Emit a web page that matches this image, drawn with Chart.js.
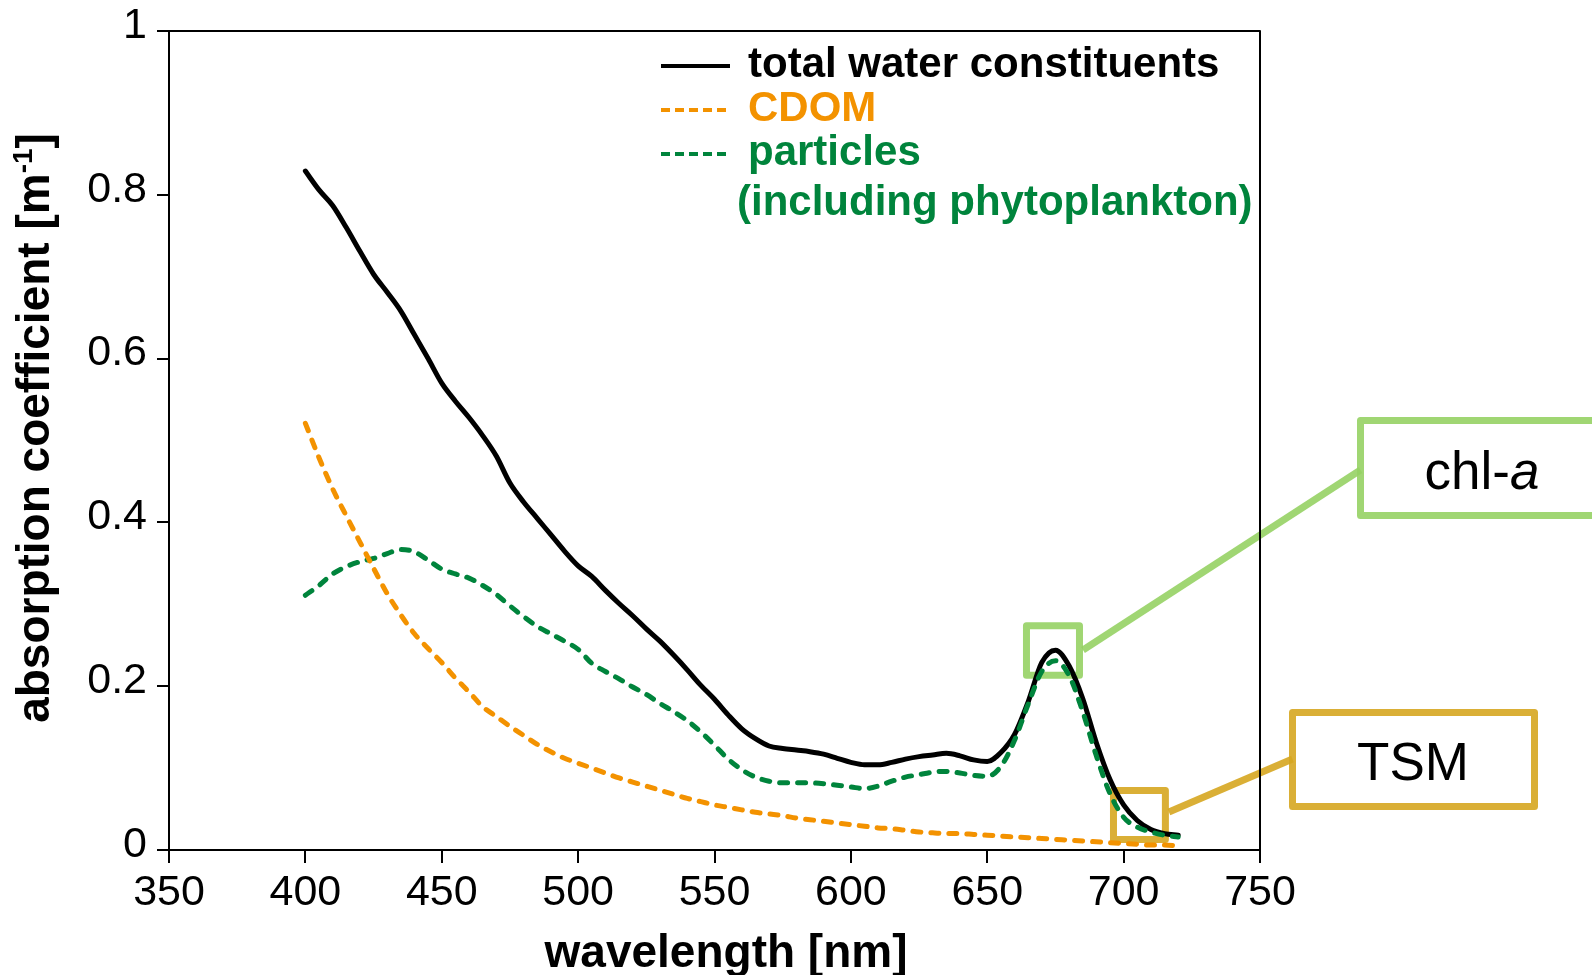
<!DOCTYPE html>
<html>
<head>
<meta charset="utf-8">
<script src="https://cdn.jsdelivr.net/npm/chart.js@4/dist/chart.umd.min.js"></script>
<style>
html,body{margin:0;padding:0;background:#fff;}
canvas{display:block;}
</style>
</head>
<body>
<canvas id="c" width="1592" height="975" style="width:1592px;height:975px"></canvas>
<script>
// ---------------- data ----------------
const wavelengths = [400,405,410,415,420,425,430,435,440,445,450,455,460,465,470,475,480,485,490,495,
  500,505,510,515,520,525,530,535,540,545,550,555,560,565,570,575,580,585,590,595,
  600,605,610,615,620,625,630,635,640,645,650,655,660,665,670,675,680,685,690,695,
  700,705,710,715,720];

const totalWater = [0.829,0.806,0.787,0.760,0.731,0.703,0.681,0.658,0.629,0.600,0.570,0.548,0.528,0.506,0.481,0.448,0.425,0.405,0.385,0.365,
  0.347,0.334,0.317,0.301,0.286,0.270,0.255,0.238,0.220,0.201,0.184,0.165,0.148,0.136,0.127,0.124,0.122,0.120,0.117,0.112,
  0.107,0.104,0.104,0.107,0.111,0.114,0.116,0.118,0.115,0.110,0.108,0.119,0.141,0.181,0.229,0.244,0.225,0.185,0.131,0.086,
  0.055,0.036,0.025,0.020,0.018];

const cdom = [0.521,0.479,0.441,0.408,0.376,0.344,0.313,0.287,0.264,0.246,0.229,0.210,0.193,0.175,0.163,0.151,0.140,0.129,0.120,0.112,
  0.106,0.100,0.094,0.088,0.083,0.078,0.073,0.068,0.063,0.059,0.055,0.052,0.049,0.046,0.044,0.042,0.039,0.037,0.035,0.033,
  0.031,0.029,0.027,0.026,0.024,0.022,0.021,0.020,0.020,0.019,0.018,0.017,0.016,0.015,0.014,0.013,0.012,0.011,0.010,0.009,
  0.008,0.007,0.006,0.006,0.005];

const particles = [0.311,0.323,0.337,0.346,0.352,0.356,0.362,0.367,0.364,0.354,0.343,0.337,0.332,0.323,0.312,0.298,0.285,0.273,0.264,0.255,
  0.245,0.228,0.218,0.209,0.199,0.190,0.179,0.169,0.158,0.144,0.128,0.111,0.098,0.089,0.084,0.082,0.082,0.082,0.081,0.079,
  0.077,0.075,0.078,0.084,0.089,0.092,0.095,0.096,0.094,0.091,0.090,0.102,0.134,0.178,0.218,0.231,0.213,0.169,0.115,0.069,
  0.040,0.028,0.022,0.018,0.016];

const seriesLabels = ['total water constituents', 'CDOM', 'particles'];
const legendSubLabel = '(including phytoplankton)';
const xTitle = 'wavelength [nm]';
const yTitleMain = 'absorption coefficient [m';
const yTitleSup = '-1';
const yTitleEnd = ']';

// ---------------- styling ----------------
const FONT = "'Liberation Sans', Arial, Helvetica, sans-serif";
const BLACK = '#000000';
const ORANGE = '#F39200';
const GREEN = '#00843C';
const CHL_COLOR = 'rgba(150,210,100,0.9)';
const TSM_COLOR = 'rgba(214,166,32,0.9)';

const toXY = (vals) => wavelengths.map((w, i) => ({x: w, y: vals[i]}));

// annotation highlight regions (data units) and label boxes
const annotations = [
  {label: 'chl', region: {x0: 663.1, x1: 685.1, y0: 0.209, y1: 0.278}, color: CHL_COLOR,
   box: {x0: 1357, y0: 417, x1: 1600, y1: 519}, join: [1357, 470], start: 650, textX: 1482, textY: 489},
  {label: 'TSM', region: {x0: 695.0, x1: 716.6, y0: 0.0085, y1: 0.077}, color: TSM_COLOR,
   box: {x0: 1289, y0: 709, x1: 1538, y1: 810}, join: [1289, 759], start: 812, textX: 1413, textY: 780}
];

const overlay = {
  id: 'overlay',
  beforeDatasetsDraw(chart) {
    const {ctx, chartArea: a, scales: {x, y}} = chart;
    ctx.save();
    ctx.lineJoin = 'round';
    const lw = 7;
    annotations.forEach(an => {
      ctx.strokeStyle = an.color;
      ctx.lineWidth = lw;
      const px0 = x.getPixelForValue(an.region.x0) + lw / 2;
      const px1 = x.getPixelForValue(an.region.x1) - lw / 2;
      const py0 = y.getPixelForValue(an.region.y1) + lw / 2;
      const py1 = y.getPixelForValue(an.region.y0) - lw / 2;
      ctx.strokeRect(px0, py0, px1 - px0, py1 - py0);
      // connector
      ctx.beginPath();
      ctx.moveTo(px1 + lw / 2, an.start);
      ctx.lineTo(an.join[0] + lw / 2, an.join[1]);
      ctx.stroke();
      // label box
      const b = an.box;
      ctx.strokeRect(b.x0 + lw / 2, b.y0 + lw / 2, b.x1 - b.x0 - lw, b.y1 - b.y0 - lw);
    });
    // frame top and right
    ctx.strokeStyle = BLACK;
    ctx.lineWidth = 2;
    ctx.beginPath();
    ctx.moveTo(a.left - 1, a.top);
    ctx.lineTo(a.right, a.top);
    ctx.lineTo(a.right, a.bottom);
    ctx.stroke();
    ctx.restore();
  },
  afterDraw(chart) {
    const {ctx} = chart;
    ctx.save();
    // annotation label texts
    ctx.fillStyle = BLACK;
    ctx.textBaseline = 'alphabetic';
    ctx.font = `53px ${FONT}`;
    const w1 = ctx.measureText('chl-').width;
    ctx.font = `italic 53px ${FONT}`;
    const w2 = ctx.measureText('a').width;
    const chl = annotations[0];
    let sx = chl.textX - (w1 + w2) / 2;
    ctx.textAlign = 'left';
    ctx.font = `53px ${FONT}`;
    ctx.fillText('chl-', sx, chl.textY);
    ctx.font = `italic 53px ${FONT}`;
    ctx.fillText('a', sx + w1, chl.textY);
    ctx.font = `53px ${FONT}`;
    ctx.textAlign = 'center';
    ctx.fillText('TSM', annotations[1].textX, annotations[1].textY);

    // legend
    const colors = [BLACK, ORANGE, GREEN];
    const baselines = [77, 121, 165];
    ctx.textAlign = 'left';
    ctx.font = `bold 42px ${FONT}`;
    seriesLabels.forEach((lab, i) => {
      const ly = baselines[i] - 11;
      ctx.strokeStyle = colors[i];
      ctx.lineWidth = 4;
      ctx.lineCap = 'butt';
      ctx.setLineDash(i === 0 ? [] : [9, 5]);
      ctx.beginPath();
      ctx.moveTo(661, ly);
      ctx.lineTo(730, ly);
      ctx.stroke();
      ctx.setLineDash([]);
      ctx.fillStyle = colors[i];
      ctx.fillText(lab, 748, baselines[i]);
    });
    ctx.fillStyle = GREEN;
    ctx.fillText(legendSubLabel, 737, 215);

    // x title
    ctx.fillStyle = BLACK;
    ctx.font = `bold 46px ${FONT}`;
    ctx.textAlign = 'center';
    ctx.fillText(xTitle, 726, 967);

    // y title (rotated) with superscript
    ctx.font = `bold 46px ${FONT}`;
    const m1 = ctx.measureText(yTitleMain).width;
    const m3 = ctx.measureText(yTitleEnd).width;
    ctx.font = `bold 28px ${FONT}`;
    const m2 = ctx.measureText(yTitleSup).width;
    const total = m1 + m2 + m3;
    ctx.translate(49, 428);
    ctx.rotate(-Math.PI / 2);
    ctx.textAlign = 'left';
    let tx = -total / 2;
    ctx.font = `bold 46px ${FONT}`;
    ctx.fillText(yTitleMain, tx, 0);
    tx += m1;
    ctx.font = `bold 28px ${FONT}`;
    ctx.fillText(yTitleSup, tx, -17);
    tx += m2;
    ctx.font = `bold 46px ${FONT}`;
    ctx.fillText(yTitleEnd, tx, 0);
    ctx.restore();
  }
};

const lineCommon = {
  pointRadius: 0,
  fill: false,
  cubicInterpolationMode: 'monotone',
  borderCapStyle: 'round',
  borderJoinStyle: 'round'
};

new Chart(document.getElementById('c'), {
  type: 'line',
  data: {
    datasets: [
      Object.assign({label: seriesLabels[1], data: toXY(cdom), borderColor: ORANGE, borderWidth: 5, borderDash: [8, 10]}, lineCommon),
      Object.assign({label: seriesLabels[2], data: toXY(particles), borderColor: GREEN, borderWidth: 5, borderDash: [8, 10]}, lineCommon),
      Object.assign({label: seriesLabels[0], data: toXY(totalWater), borderColor: BLACK, borderWidth: 5}, lineCommon)
    ]
  },
  options: {
    responsive: false,
    animation: false,
    devicePixelRatio: 1,
    layout: {padding: {top: 31, right: 332, left: 0, bottom: 0}},
    plugins: {legend: {display: false}, tooltip: {enabled: false}, title: {display: false}},
    scales: {
      x: {
        type: 'linear', min: 350, max: 750,
        ticks: {stepSize: 50, color: BLACK, font: {family: FONT, size: 43}, padding: 4, maxRotation: 0, autoSkip: false},
        grid: {drawOnChartArea: false, drawTicks: true, tickLength: 13, color: BLACK, lineWidth: 2},
        border: {display: true, color: BLACK, width: 2},
        afterFit(s) { s.height = 125; s.paddingLeft = 0; s.paddingRight = 0; }
      },
      y: {
        type: 'linear', min: 0, max: 1,
        ticks: {stepSize: 0.2, color: BLACK, font: {family: FONT, size: 43}, padding: 10, labelOffset: -5,
          callback: v => (v === 0 ? '0' : (Math.abs(v - 1) < 1e-9 ? '1' : v.toFixed(1)))},
        grid: {drawOnChartArea: false, drawTicks: true, tickLength: 12, color: BLACK, lineWidth: 2},
        border: {display: true, color: BLACK, width: 2},
        afterFit(s) { s.width = 169; s.paddingTop = 0; s.paddingBottom = 0; }
      }
    }
  },
  plugins: [overlay]
});
</script>
</body>
</html>
